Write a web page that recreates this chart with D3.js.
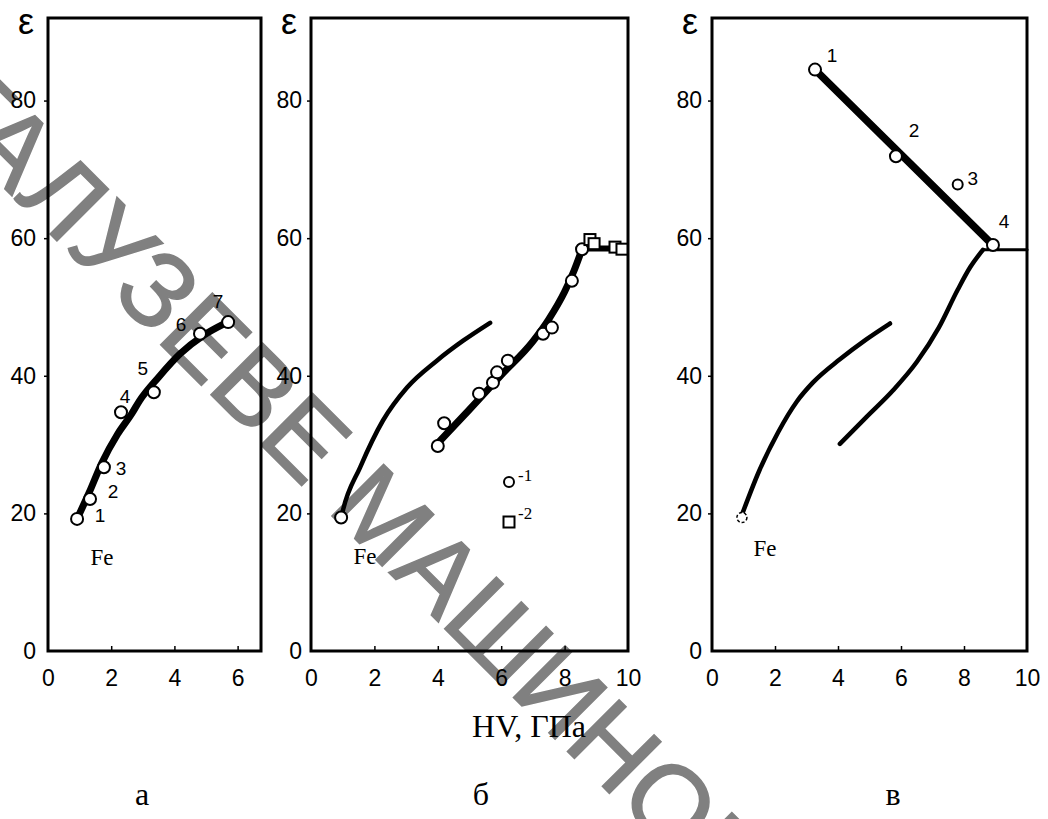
<!DOCTYPE html>
<html>
<head>
<meta charset="utf-8">
<script src="https://cdn.jsdelivr.net/npm/d3@7"></script>
<style>
  body { margin: 0; background: #fff; }
</style>
</head>
<body>
<svg id="chart" width="1048" height="819"></svg>
<script>
// values: x = HV (GPa), y = epsilon
const feCurveA = [[0.95, 19.5], [1.3, 23], [1.7, 27.3], [2.2, 31.5], [2.65, 34.5], [2.9, 36.4], [3.5, 39.8], [4.18, 43.2], [4.9, 45.8], [5.6, 47.6]];
const pointsA = [[0.92, 19.2], [1.33, 22.1], [1.77, 26.7], [2.31, 34.7], [3.35, 37.6], [4.81, 46.1], [5.7, 47.8]];
const labelsA = ["1", "2", "3", "4", "5", "6", "7"];

const feCurveB = [[0.95, 19.3], [1.01, 20.5], [1.55, 26.7], [2.27, 33.5], [3.03, 38.3], [3.97, 42.2], [4.8, 45.1], [5.65, 47.7]];
const fitB = [[4.0, 30.2], [5.0, 35.1], [6.0, 40.1], [7.0, 45.0], [7.5, 48.2], [8.0, 52.2], [8.3, 55.3], [8.55, 58.4]];
const plateauB = [[8.55, 58.5], [9.7, 58.5]];
const circlesB = [[4.0, 29.8], [4.2, 33.1], [5.3, 37.4], [5.74, 39.0], [5.87, 40.5], [6.21, 42.2], [7.32, 46.1], [7.6, 47.0], [8.23, 53.8], [8.55, 58.4]];
const squaresB = [[8.8, 59.8], [8.93, 59.2], [9.59, 58.7], [9.81, 58.4]];
const legendLabels = ["-1", "-2"];

const feCurveC = [[0.95, 19.8], [1.5, 26.2], [2.1, 31.8], [2.7, 36.3], [3.2, 39.0], [4.06, 42.4], [4.9, 45.3], [5.65, 47.6]];
const curveC = [[4.06, 30.1], [4.9, 34], [5.75, 37.9], [6.5, 42.0], [7.2, 47.0], [7.8, 52.5], [8.2, 55.8], [8.6, 58.3]];
const plateauC = [[8.6, 58.3], [10, 58.3]];
const lineC = [[3.27, 84.5], [8.85, 59.3]];
const pointsC = [[3.27, 84.5], [5.84, 71.9], [7.8, 67.8], [8.92, 59.0]];
const labelsC = ["1", "2", "3", "4"];
const feStart = [0.95, 19.4];

const yTicks = [0, 20, 40, 60, 80];
const xTicksA = [0, 2, 4, 6];
const xTicksBC = [0, 2, 4, 6, 8, 10];
const panelLetters = ["а", "б", "в"];
const watermarkText = "ГАЛУЗЕВЕ МАШИНОБУДУВАННЯ";

// layout (pixels)
const plotTop = 18, plotBottom = 651;
const panels = [
  { left: 48, right: 261, xMax: 6.74, ticks: xTicksA, pad: 8 },
  { left: 311, right: 628, xMax: 10, ticks: xTicksBC, pad: 5 },
  { left: 712, right: 1027, xMax: 10, ticks: xTicksBC, pad: 6 }
];
const labelOffA = [[23, 3], [23, -1], [17, 8], [4, -9], [-11, -17], [-19, -3], [-10, -14]];
const labelOffC = [[17, -8], [18, -19], [15, 0], [11, -17]];

const svg = d3.select("#chart");
const numFont = "'Liberation Sans', Arial, sans-serif";
const serif = "'Liberation Serif', 'Times New Roman', serif";

// watermark: fit the diagonal text so the 2nd letter and the "О" sit where they do in the scan
{
  const wm = svg.append("text")
    .attr("font-family", numFont)
    .attr("fill", "#808080")
    .attr("stroke", "#808080")
    .attr("stroke-width", 1.5)
    .attr("font-size", 100)
    .text(watermarkText);
  const mid = i => { const b = wm.node().getExtentOfChar(i); return b.x + b.width / 2; };
  const tA = 113, tO = 1042, off = 92;
  const fs = 100 * (tO - tA) / (mid(14) - mid(1));
  wm.attr("font-size", fs).attr("y", 0.358 * fs);
  const u = tA - mid(1);
  const x0 = (u - off) / Math.SQRT2, y0 = (u + off) / Math.SQRT2;
  wm.attr("transform", `translate(${x0},${y0}) rotate(45)`);
}

const y = d3.scaleLinear().domain([0, 92]).range([plotBottom, plotTop]);
const line = d3.line().curve(d3.curveMonotoneX);

function drawPanel(p) {
  const x = d3.scaleLinear().domain([0, p.xMax]).range([p.left, p.right]);
  const g = svg.append("g");
  line.x(d => x(d[0])).y(d => y(d[1]));

  const ya = g.append("g")
    .attr("transform", `translate(${p.left},0)`)
    .call(d3.axisLeft(y).tickValues(yTicks).tickSize(4).tickPadding(p.pad).tickFormat(d3.format("d")));
  const xa = g.append("g")
    .attr("transform", `translate(0,${plotBottom})`)
    .call(d3.axisBottom(x).tickValues(p.ticks).tickSizeInner(-5).tickSizeOuter(0).tickPadding(19).tickFormat(d3.format("d")));
  [ya, xa].forEach(a => {
    a.select(".domain").remove();
    a.selectAll("line").attr("stroke", "#000").attr("stroke-width", 1.5);
    a.selectAll("text").attr("font-family", numFont).attr("font-size", 23).attr("fill", "#000");
  });
  ya.selectAll(".tick").filter(d => d === 0).select("line").remove();
  xa.selectAll(".tick").filter(d => d === 0 || d === p.xMax).select("line").remove();

  g.append("rect")
    .attr("x", p.left).attr("y", plotTop)
    .attr("width", p.right - p.left).attr("height", plotBottom - plotTop)
    .attr("fill", "none").attr("stroke", "#000").attr("stroke-width", 3);

  g.append("text")
    .attr("x", p.left - 14).attr("y", 34)
    .attr("text-anchor", "end")
    .attr("font-family", numFont).attr("font-size", 36)
    .text("ε");
  return { g, x };
}

function circles(g, x, pts, r) {
  g.selectAll(null).data(pts).join("circle")
    .attr("cx", d => x(d[0])).attr("cy", d => y(d[1])).attr("r", r)
    .attr("fill", "#fff").attr("stroke", "#000").attr("stroke-width", 2);
}

function path(g, data, w) {
  g.append("path").datum(data).attr("d", line)
    .attr("fill", "none").attr("stroke", "#000").attr("stroke-width", w)
    .attr("stroke-linecap", "round");
}

function feLabel(g, px, py) {
  g.append("text").attr("x", px).attr("y", py)
    .attr("text-anchor", "middle").attr("font-family", serif).attr("font-size", 23)
    .text("Fe");
}

// --- panel а ---
{
  const { g, x } = drawPanel(panels[0]);
  path(g, feCurveA, 7);
  circles(g, x, pointsA, 6);
  g.selectAll(null).data(pointsA).join("text")
    .attr("x", (d, i) => x(d[0]) + labelOffA[i][0])
    .attr("y", (d, i) => y(d[1]) + labelOffA[i][1])
    .attr("text-anchor", "middle")
    .attr("font-family", "'Liberation Sans Narrow', 'Liberation Sans', sans-serif")
    .attr("font-size", 19)
    .text((d, i) => labelsA[i]);
  feLabel(g, 102, 565);
}

// --- panel б ---
{
  const { g, x } = drawPanel(panels[1]);
  path(g, feCurveB, 4.5);
  path(g, fitB, 7);
  line.curve(d3.curveLinear);
  path(g, plateauB, 6);
  line.curve(d3.curveMonotoneX);
  circles(g, x, [feStart], 6);
  circles(g, x, circlesB, 6);
  g.selectAll(null).data(squaresB).join("rect")
    .attr("x", d => x(d[0]) - 5.5).attr("y", d => y(d[1]) - 5.5)
    .attr("width", 11).attr("height", 11)
    .attr("fill", "#fff").attr("stroke", "#000").attr("stroke-width", 2);
  feLabel(g, 365, 564);

  // legend
  g.append("circle").attr("cx", 509).attr("cy", 482).attr("r", 5)
    .attr("fill", "#fff").attr("stroke", "#000").attr("stroke-width", 2);
  g.append("rect").attr("x", 503.5).attr("y", 516.5).attr("width", 11).attr("height", 11)
    .attr("fill", "#fff").attr("stroke", "#000").attr("stroke-width", 2);
  g.selectAll(null).data(legendLabels).join("text")
    .attr("x", 518).attr("y", (d, i) => 481 + i * 38)
    .attr("font-family", serif).attr("font-size", 17)
    .text(d => d);
}

// --- panel в ---
{
  const { g, x } = drawPanel(panels[2]);
  path(g, feCurveC, 4.5);
  path(g, curveC, 4.5);
  line.curve(d3.curveLinear);
  path(g, plateauC, 3);
  path(g, lineC, 7.5);
  line.curve(d3.curveMonotoneX);
  g.append("circle").attr("cx", x(feStart[0])).attr("cy", y(feStart[1])).attr("r", 5)
    .attr("fill", "#fff").attr("stroke", "#000").attr("stroke-width", 1.5)
    .attr("stroke-dasharray", "3,2");
  circles(g, x, pointsC.slice(0, 2), 6);
  circles(g, x, [pointsC[2]], 5);
  circles(g, x, [pointsC[3]], 6);
  g.selectAll(null).data(pointsC).join("text")
    .attr("x", (d, i) => x(d[0]) + labelOffC[i][0])
    .attr("y", (d, i) => y(d[1]) + labelOffC[i][1])
    .attr("text-anchor", "middle")
    .attr("font-family", "'Liberation Sans Narrow', 'Liberation Sans', sans-serif")
    .attr("font-size", 19)
    .text((d, i) => labelsC[i]);
  feLabel(g, 765, 556);
}

// shared axis title and panel letters
svg.append("text")
  .attr("x", 529).attr("y", 737)
  .attr("text-anchor", "middle")
  .attr("font-family", serif).attr("font-size", 32)
  .text("HV, ГПа");

const letterX = [142, 481, 893];
svg.selectAll(null).data(panelLetters).join("text")
  .attr("x", (d, i) => letterX[i]).attr("y", 805)
  .attr("text-anchor", "middle")
  .attr("font-family", serif).attr("font-size", 32)
  .text(d => d);
</script>
</body>
</html>
